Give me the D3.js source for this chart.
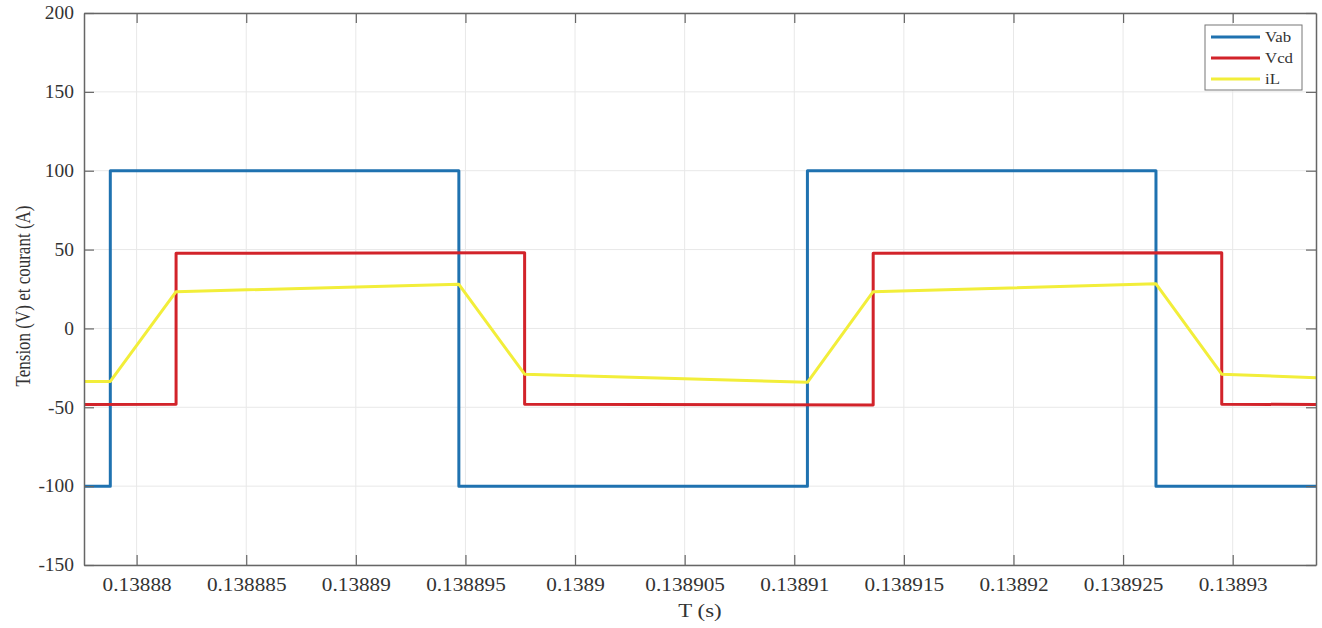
<!DOCTYPE html>
<html>
<head>
<meta charset="utf-8">
<script src="https://cdn.jsdelivr.net/npm/d3@7"></script>
<style>
  body { margin: 0; background: #fff; }
  svg { display: block; }
  text { font-family: "Liberation Serif", "Times New Roman", serif; fill: #333; }
</style>
</head>
<body>
<svg id="chart" width="1322" height="628"></svg>
<script>
// time span shown on the x axis (s)
const tRange = [0.1388776, 0.1389338];
const yRange = [-150, 200];

const xTicks = [0.13888, 0.138885, 0.13889, 0.138895, 0.1389, 0.138905,
                0.13891, 0.138915, 0.13892, 0.138925, 0.13893];
const xTickLabels = ["0.13888", "0.138885", "0.13889", "0.138895", "0.1389", "0.138905",
                     "0.13891", "0.138915", "0.13892", "0.138925", "0.13893"];
const yTicks = [-150, -100, -50, 0, 50, 100, 150, 200];

// Vab : square wave +-100 V
const tVab = [0.1388776, 0.1388788, 0.1388788, 0.1388947, 0.1388947,
              0.1389106, 0.1389106, 0.1389265, 0.1389265, 0.1389338];
const vVab = [-100, -100, 100, 100, -100, -100, 100, 100, -100, -100];

// Vcd : square wave about +-48 V, phase shifted
const tVcd = [0.1388776, 0.1388818, 0.1388818, 0.1388977, 0.1388977,
              0.1389136, 0.1389136, 0.1389295, 0.1389295, 0.1389338];
const vVcd = [-48.3, -48.1, 47.6, 48.0, -48.0, -48.5, 47.6, 48.0, -48.0, -48.3];

// iL : inductor current (A)
const tIL = [0.1388776, 0.1388788, 0.1388818, 0.1388947, 0.1388977,
             0.1389106, 0.1389136, 0.1389265, 0.1389295, 0.1389338];
const vIL = [-33.6, -33.6, 23.3, 28.0, -29.0, -34.2, 23.3, 28.3, -29.0, -31.2];

const series = [
  {name: "Vab", t: tVab, v: vVab, color: "#1f72b0"},
  {name: "Vcd", t: tVcd, v: vVcd, color: "#d2232a"},
  {name: "iL",  t: tIL,  v: vIL,  color: "#f2ee3a"}
];

const m = {left: 84, right: 1316, top: 13, bottom: 565};
const svg = d3.select("#chart");

const x = d3.scaleLinear().domain(tRange).range([m.left, m.right]);
const y = d3.scaleLinear().domain(yRange).range([m.bottom, m.top]);

// image is slightly wider than tall: stretch text glyphs sideways
function stretch(sel, k) {
  sel.each(function() {
    const w = this.getComputedTextLength();
    d3.select(this).attr("textLength", w * k).attr("lengthAdjust", "spacingAndGlyphs");
  });
}

// grid
const grid = svg.append("g").attr("stroke", "#e8e8e8").attr("stroke-width", 1);
grid.selectAll(".gx").data(xTicks).join("line")
    .attr("x1", d => x(d)).attr("x2", d => x(d))
    .attr("y1", m.top).attr("y2", m.bottom);
grid.selectAll(".gy").data(yTicks).join("line")
    .attr("x1", m.left).attr("x2", m.right)
    .attr("y1", d => y(d)).attr("y2", d => y(d));

// lines
const line = d3.line().x(d => x(d[0])).y(d => y(d[1]));
const plot = svg.append("g");
series.forEach(s => {
  plot.append("path")
      .datum(d3.zip(s.t, s.v))
      .attr("fill", "none")
      .attr("stroke", s.color)
      .attr("stroke-width", 3)
      .attr("stroke-linejoin", "round")
      .attr("d", line);
});

// axes (ticks inside, MATLAB box)
const axColor = "#666";
const xAxis = svg.append("g").attr("transform", `translate(0,${m.bottom})`)
    .call(d3.axisBottom(x).tickValues(xTicks).tickFormat((d, i) => xTickLabels[i])
      .tickSizeInner(-10).tickSizeOuter(0).tickPadding(13));
const xAxisTop = svg.append("g").attr("transform", `translate(0,${m.top})`)
    .call(d3.axisTop(x).tickValues(xTicks).tickFormat("").tickSizeInner(-10).tickSizeOuter(0));
const yAxis = svg.append("g").attr("transform", `translate(${m.left},0)`)
    .call(d3.axisLeft(y).tickValues(yTicks).tickFormat(d => String(d))
      .tickSizeInner(-10).tickSizeOuter(0).tickPadding(10));
const yAxisRight = svg.append("g").attr("transform", `translate(${m.right},0)`)
    .call(d3.axisRight(y).tickValues(yTicks).tickFormat("").tickSizeInner(-10).tickSizeOuter(0));

[xAxis, xAxisTop, yAxis, yAxisRight].forEach(a => {
  a.select(".domain").attr("stroke", axColor).attr("stroke-width", 1.5);
  a.selectAll(".tick line").attr("stroke", axColor).attr("stroke-width", 1.2);
});
xAxis.selectAll(".tick text").attr("font-size", 18).attr("fill", "#333")
    .attr("font-family", "Liberation Serif").call(stretch, 1.18);
yAxis.selectAll(".tick text").attr("font-size", 18).attr("fill", "#333")
    .attr("font-family", "Liberation Serif").call(stretch, 1.08);

// axis titles
svg.append("text")
    .attr("x", (m.left + m.right) / 2).attr("y", 617)
    .attr("text-anchor", "middle").attr("font-size", 19)
    .text("T (s)").call(stretch, 1.2);
svg.append("text")
    .attr("transform", `translate(30,296) rotate(-90) scale(1,1.2)`)
    .attr("text-anchor", "middle").attr("font-size", 17)
    .text("Tension (V) et courant (A)");

// legend
const lg = svg.append("g");
lg.append("rect").attr("x", 1205).attr("y", 25).attr("width", 97).attr("height", 65)
    .attr("fill", "#fff").attr("stroke", "#777").attr("stroke-width", 1);
series.forEach((s, i) => {
  const yy = 37 + i * 21;
  lg.append("line").attr("x1", 1211).attr("x2", 1260).attr("y1", yy).attr("y2", yy)
      .attr("stroke", s.color).attr("stroke-width", 3);
  lg.append("text").attr("x", 1265).attr("y", yy + 5).attr("font-size", 14)
      .attr("fill", "#222").text(s.name).call(stretch, 1.2);
});
</script>
</body>
</html>
